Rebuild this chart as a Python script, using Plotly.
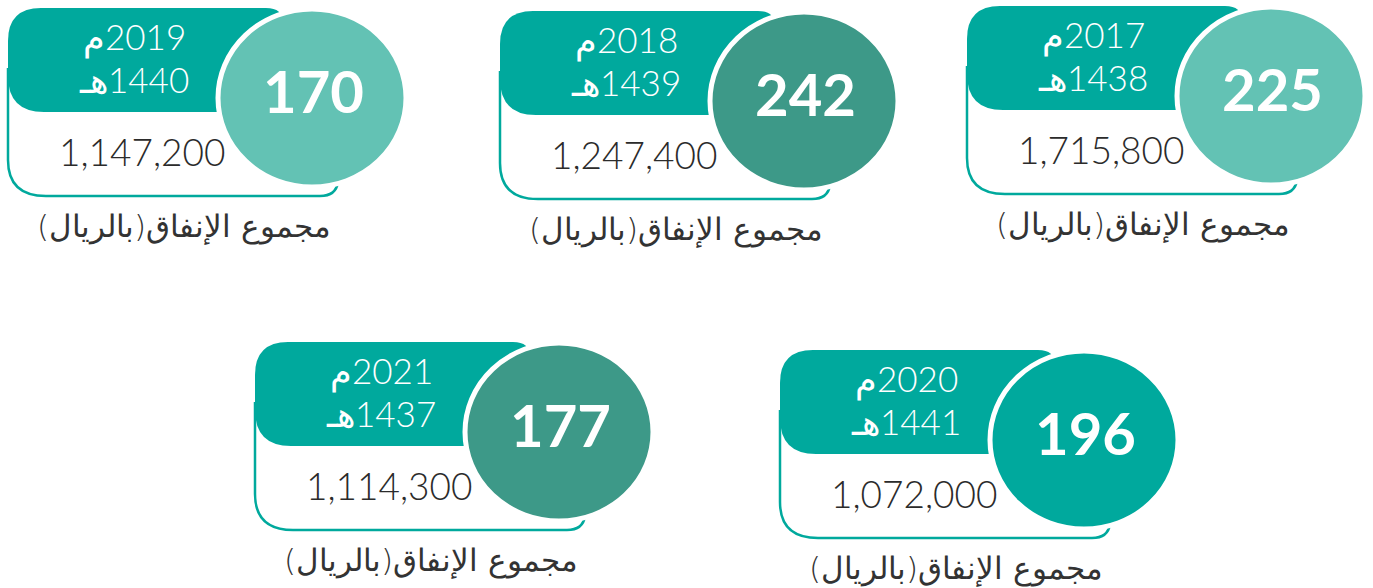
import plotly.graph_objects as go

# ---- data ----
years_g = ["2017", "2018", "2019", "2020", "2021"]
years_h = ["1438", "1439", "1440", "1441", "1437"]
counts = [225, 242, 170, 196, 177]
spending = [1715800, 1247400, 1147200, 1072000, 1114300]
label_text = "مجموع الإنفاق(بالريال)"

# ---- layout / style ----
W, H = 1373, 588
TEAL = "#00A99D"
circle_colors = ["#63C2B4", "#3D9988", "#63C2B4", "#00A99D", "#3D9988"]
# card top-left origins (pixels)
origins = [(967, 6), (500, 11), (8, 8), (780, 350), (255, 342)]

HB = 104      # header bottom (rel)
BOT = 188     # card bottom (rel)
CX, CY = 304, 90
RX, RY = 94, 89
RLM = "\u200f"

fig = go.Figure()
shapes = []
annotations = []

for i in range(len(years_g)):
    x0, y0 = origins[i]
    X = lambda v: x0 + v
    Y = lambda v: y0 + v
    # outline (left + bottom)
    outline = (f"M {X(0)},{Y(60)} L {X(0)},{Y(BOT-36)} Q {X(0)},{Y(BOT)} {X(38)},{Y(BOT)} "
               f"L {X(312)},{Y(BOT)} Q {X(328)},{Y(BOT)} {X(330)},{Y(BOT-14)}")
    shapes.append(dict(type="path", path=outline, line=dict(color=TEAL, width=2.5),
                       xref="x", yref="y", layer="above"))
    # header
    header = (f"M {X(0)},{Y(33)} Q {X(0)},{Y(0)} {X(33)},{Y(0)} L {X(258)},{Y(0)} "
              f"Q {X(275)},{Y(0)} {X(275)},{Y(15)} L {X(275)},{Y(HB)} L {X(36)},{Y(HB)} "
              f"Q {X(0)},{Y(HB)} {X(0)},{Y(HB-36)} Z")
    shapes.append(dict(type="path", path=header, fillcolor=TEAL, line=dict(width=0),
                       xref="x", yref="y", layer="above"))
    # circle
    shapes.append(dict(type="circle", x0=X(CX-RX), x1=X(CX+RX), y0=Y(CY-RY), y1=Y(CY+RY),
                       fillcolor=circle_colors[i], line=dict(color="white", width=5),
                       xref="x", yref="y", layer="above"))
    # texts
    annotations.append(dict(x=X(CX+1), y=Y(CY-8), text=f"<b>{counts[i]}</b>", showarrow=False,
                            font=dict(family="Lato", size=58, color="white", weight=900),
                            xanchor="center", yanchor="middle"))
    annotations.append(dict(x=X(126), y=Y(29), text=RLM + f"{years_g[i]}م", showarrow=False,
                            font=dict(family="Lato, DejaVu Sans", size=35, color="white", weight=300),
                            xanchor="center", yanchor="middle"))
    annotations.append(dict(x=X(126), y=Y(71), text=RLM + f"{years_h[i]}هـ", showarrow=False,
                            font=dict(family="Lato, DejaVu Sans", size=35, color="white", weight=300),
                            xanchor="center", yanchor="middle"))
    annotations.append(dict(x=X(134), y=Y(143), text=f"{spending[i]:,}", showarrow=False,
                            font=dict(family="Lato", size=37, color="#2b2b2b", weight=300),
                            xanchor="center", yanchor="middle"))
    annotations.append(dict(x=X(176), y=Y(218), text=RLM + label_text + RLM, showarrow=False,
                            font=dict(family="DejaVu Sans", size=31, color="#333333", weight=300),
                            xanchor="center", yanchor="middle"))

fig.update_layout(
    width=W, height=H, autosize=False,
    margin=dict(l=0, r=0, t=0, b=0),
    paper_bgcolor="white", plot_bgcolor="white",
    xaxis=dict(range=[0, W], visible=False, fixedrange=True),
    yaxis=dict(range=[H, 0], visible=False, fixedrange=True),
    shapes=shapes, annotations=annotations, showlegend=False,
)

fig.write_html("out.html", config={"displayModeBar": False},
               post_script="document.body.style.margin='0';document.body.style.overflow='hidden';")
